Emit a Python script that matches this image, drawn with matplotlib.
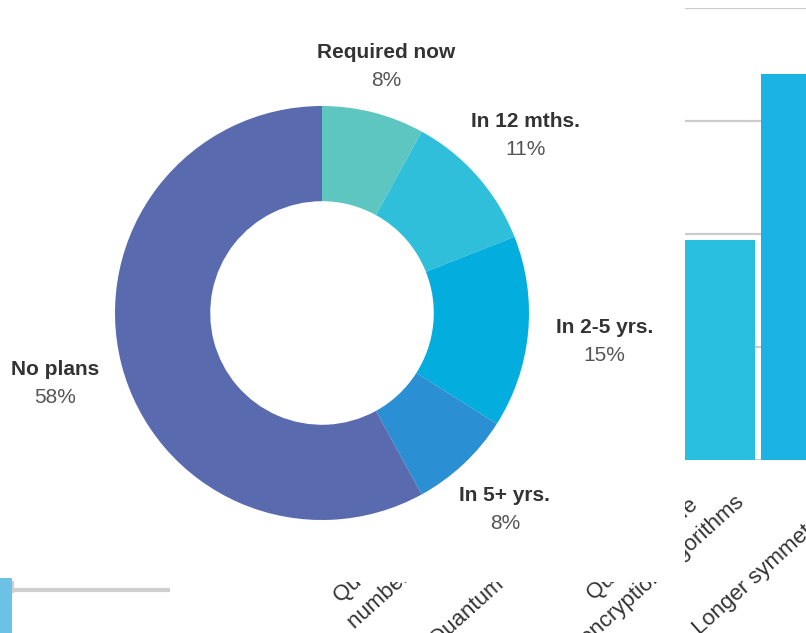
import numpy as np
import matplotlib
matplotlib.use("Agg")
import matplotlib.pyplot as plt
from matplotlib.patches import Rectangle
from matplotlib.lines import Line2D

plt.rcParams['font.family'] = ['Liberation Sans', 'DejaVu Sans']

# ---- donut data ----
donut_labels = ["Required now", "In 12 mths.", "In 2-5 yrs.", "In 5+ yrs.", "No plans"]
donut_values = [8, 11, 15, 8, 58]
donut_colors = ["#5EC6C1", "#2FBFDA", "#03ADDE", "#2A8FD3", "#5A6AAF"]
label_dist = [1.24, 1.31, 1.37, 1.29, 1.33]

# ---- background bar chart (partially hidden) ----
bar_categories = ["Quantum random\nnumber generators", "Quantum key distribution",
                  "Quantum-safe\nencryption algorithms", "Longer symmetric keys"]
bar_series_a = [np.nan, np.nan, 19.5, np.nan]
bar_series_b = [np.nan, np.nan, 34.2, np.nan]
bar_yticks = [0, 10, 20, 30, 40]

W, H = 806, 633
fig = plt.figure(figsize=(W / 100, H / 100), dpi=100)
fig.patch.set_facecolor("white")

# background bar axes
spacing = 125.0
c_idx = 2
c_px = 758.0
left_px = c_px - spacing * (c_idx + 0.5)
axb = fig.add_axes([left_px / W, (H - 460) / H, spacing * len(bar_categories) / W, (460 - 8) / H])
axb.set_zorder(0)
x = np.arange(len(bar_categories))
bw = 70 / spacing
off = 38.5 / spacing
axb.bar(x - off, bar_series_a, width=bw, color="#29BFE1", zorder=3)
axb.bar(x + off, bar_series_b, width=bw, color="#1AB3E3", zorder=3)
axb.set_xlim(-0.5, len(bar_categories) - 0.5)
axb.set_ylim(0, 40)
axb.set_yticks(bar_yticks)
axb.yaxis.grid(True, color="#cccccc", linewidth=1.6)
axb.set_axisbelow(True)
axb.tick_params(axis="y", left=False, labelleft=False)
axb.tick_params(axis="x", bottom=False, pad=4)
axb.set_xticks(x - 0.08)
axb.set_xticklabels(bar_categories, rotation=42, ha="right", fontsize=16, color="#333333",
                    linespacing=1.5, multialignment="center")
for s in axb.spines.values():
    s.set_visible(False)

# white overlay representing donut image card
fig.patches.append(Rectangle((0, (H - 582) / H), 685 / W, 582 / H, transform=fig.transFigure,
                             facecolor="white", edgecolor="none", zorder=1))

# bottom-left decorations
fig.lines.append(Line2D([15 / W, 168 / W], [(H - 590) / H] * 2, transform=fig.transFigure,
                        color="#cfcfcf", linewidth=3, zorder=1.5))
fig.lines.append(Line2D([13 / W, 13 / W], [(H - 582) / H, (H - 592) / H], transform=fig.transFigure,
                        color="#cfcfcf", linewidth=1.5, zorder=1.5))
fig.patches.append(Rectangle((0, 0), 12 / W, (H - 578) / H, transform=fig.transFigure,
                             facecolor="#6CC2E6", edgecolor="none", zorder=1.5))

# donut axes
cx, cy, R = 322, 313, 207
axd = fig.add_axes([(cx - R) / W, (H - cy - R) / H, 2 * R / W, 2 * R / H])
axd.set_zorder(2)
wedges, _ = axd.pie(donut_values, colors=donut_colors, startangle=90, counterclock=False,
                    radius=1.0, wedgeprops=dict(width=0.46, edgecolor="none", linewidth=0))
axd.set_xlim(-1, 1)
axd.set_ylim(-1, 1)
axd.axis("off")

for w, lab, val, d in zip(wedges, donut_labels, donut_values, label_dist):
    ang = np.deg2rad((w.theta1 + w.theta2) / 2)
    px, py = d * np.cos(ang), d * np.sin(ang)
    axd.annotate(lab, (px, py), xytext=(0, 12), textcoords="offset pixels",
                 ha="center", va="center", fontsize=15, fontweight="bold",
                 color="#333333", annotation_clip=False)
    axd.annotate(f"{val}%", (px, py), xytext=(0, -16), textcoords="offset pixels",
                 ha="center", va="center", fontsize=15, color="#555555",
                 annotation_clip=False)

fig.savefig("out.png", dpi=100, facecolor="white")
